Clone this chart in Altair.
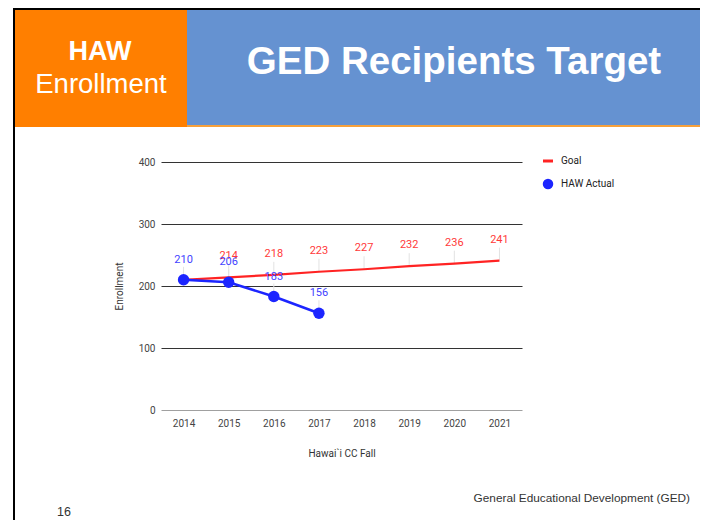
import altair as alt
import pandas as pd

# ---- data ----
years = ["2014", "2015", "2016", "2017", "2018", "2019", "2020", "2021"]
goal = [210, 214, 218, 223, 227, 232, 236, 241]
actual_years = ["2014", "2015", "2016", "2017"]
actual = [210, 206, 183, 156]
y_ticks = [0, 100, 200, 300, 400]
series_names = ["Goal", "HAW Actual"]
header_left = ["HAW", "Enrollment"]
title_text = "GED Recipients Target"
x_title = "Hawai`i CC Fall"
y_title = "Enrollment"
footer_note = "General Educational Development (GED)"
page_number = "16"

goal_df = pd.DataFrame({"year": years, "value": goal})
actual_df = pd.DataFrame({"year": actual_years, "value": actual})
one = pd.DataFrame({"k": [0]})

RED = "#ff2323"
BLUE = "#1c25ff"
RED_TXT = "#ff3a3a"
BLUE_TXT = "#4343ff"
ORANGE = "#ff7f00"
BANNER = "#6592d1"

x_enc = alt.X(
    "year:O",
    scale=alt.Scale(type="point", padding=0.5, domain=years),
    axis=alt.Axis(title=x_title, labelAngle=0, labelPadding=8, titlePadding=20),
)
y_enc = alt.Y(
    "value:Q",
    scale=alt.Scale(domain=[0, 400], nice=False),
    axis=alt.Axis(
        values=y_ticks,
        title=y_title,
        grid=True,
        gridColor={"expr": "datum.value == 0 ? '#a0a0a0' : '#333333'"},
        labelPadding=6,
        titlePadding=14,
    ),
)

# ---- data layers ----
goal_stems = alt.Chart(goal_df).mark_rule(color="#e2e2e2", strokeWidth=1, y2Offset=-13).encode(
    x=x_enc, y=y_enc, y2="value:Q"
).transform_filter("datum.year != '2014'")
actual_stems = alt.Chart(actual_df).mark_rule(color="#e2e2e2", strokeWidth=1, y2Offset=-13).encode(
    x=x_enc, y=y_enc, y2="value:Q"
)
goal_line = alt.Chart(goal_df).mark_line(color=RED, strokeWidth=2.2).encode(x=x_enc, y=y_enc)
actual_line = alt.Chart(actual_df).mark_line(color=BLUE, strokeWidth=2.5).encode(x=x_enc, y=y_enc)
actual_pts = alt.Chart(actual_df).mark_circle(color=BLUE, opacity=1, size=130).encode(x=x_enc, y=y_enc)
goal_labels = alt.Chart(goal_df).mark_text(
    dy=-21, fontSize=11, font="Roboto", color=RED_TXT
).encode(x=x_enc, y=y_enc, text="value:Q").transform_filter("datum.year != '2014'")
actual_labels = alt.Chart(actual_df).mark_text(
    dy=-20, fontSize=11, font="Roboto", color=BLUE_TXT
).encode(x=x_enc, y=y_enc, text="value:Q")

# ---- legend (manual) ----
leg_goal_line = alt.Chart(one).mark_rule(color=RED, strokeWidth=3).encode(
    x=alt.value(382), x2=alt.value(392), y=alt.value(-1)
)
leg_goal_txt = alt.Chart(one).mark_text(
    align="left", baseline="middle", fontSize=10, font="Roboto", color="#222"
).encode(x=alt.value(400), y=alt.value(-1), text=alt.value(series_names[0]))
leg_act_pt = alt.Chart(one).mark_circle(color=BLUE, opacity=1, size=110).encode(
    x=alt.value(387), y=alt.value(22)
)
leg_act_txt = alt.Chart(one).mark_text(
    align="left", baseline="middle", fontSize=10, font="Roboto", color="#222"
).encode(x=alt.value(400), y=alt.value(22), text=alt.value(series_names[1]))

# ---- slide decorations ----
def box(x1, x2, y1, y2, color, opacity=1):
    return alt.Chart(one).mark_rect(color=color, opacity=opacity).encode(
        x=alt.value(x1), x2=alt.value(x2), y=alt.value(y1), y2=alt.value(y2)
    )

frame_top = box(-148, 547, -156, -152, "#000000")
frame_left = box(-148, -146, -156, 370, "#000000")
orange_box = box(-146, 26, -152, -35, ORANGE)
banner = box(26, 547, -152, -37, BANNER)
banner_strip = box(26, 547, -37, -35, "#f7a03a")

haw_txt = alt.Chart(one).mark_text(
    align="center", baseline="alphabetic", fontSize=27, fontWeight="bold",
    font="Liberation Sans", color="white"
).encode(x=alt.value(-61), y=alt.value(-102), text=alt.value(header_left[0]))
enr_txt = alt.Chart(one).mark_text(
    align="center", baseline="alphabetic", fontSize=27.5,
    font="Liberation Sans", color="white"
).encode(x=alt.value(-60), y=alt.value(-69), text=alt.value(header_left[1]))
title_txt = alt.Chart(one).mark_text(
    align="center", baseline="alphabetic", fontSize=38.5, fontWeight="bold",
    font="Liberation Sans", color="white"
).encode(x=alt.value(293), y=alt.value(-88), text=alt.value(title_text))
footer_txt = alt.Chart(one).mark_text(
    align="right", baseline="alphabetic", fontSize=11.8,
    font="Liberation Sans", color="#333"
).encode(x=alt.value(529), y=alt.value(340), text=alt.value(footer_note))
page_txt = alt.Chart(one).mark_text(
    align="left", baseline="alphabetic", fontSize=12.5,
    font="Liberation Sans", color="#333"
).encode(x=alt.value(-104), y=alt.value(354), text=alt.value(page_number))

chart = alt.layer(
    goal_stems, actual_stems, goal_line, actual_line, actual_pts,
    goal_labels, actual_labels,
    leg_goal_line, leg_goal_txt, leg_act_pt, leg_act_txt,
    frame_top, frame_left, orange_box, banner, banner_strip,
    haw_txt, enr_txt, title_txt, footer_txt, page_txt,
).properties(
    width=361,
    height=248,
    autosize=alt.AutoSizeParams(type="none"),
    padding={"left": 153, "top": 154, "right": 178, "bottom": 110},
    background="white",
).configure_view(stroke=None).configure_axis(
    labelFont="Roboto", labelFontSize=10, labelColor="#444",
    titleFont="Roboto", titleFontSize=10, titleFontWeight="normal", titleColor="#333",
    domain=False, ticks=False, tickSize=0, gridWidth=1,
)

chart.save("out.html", embed_options={"renderer": "svg", "actions": False})
